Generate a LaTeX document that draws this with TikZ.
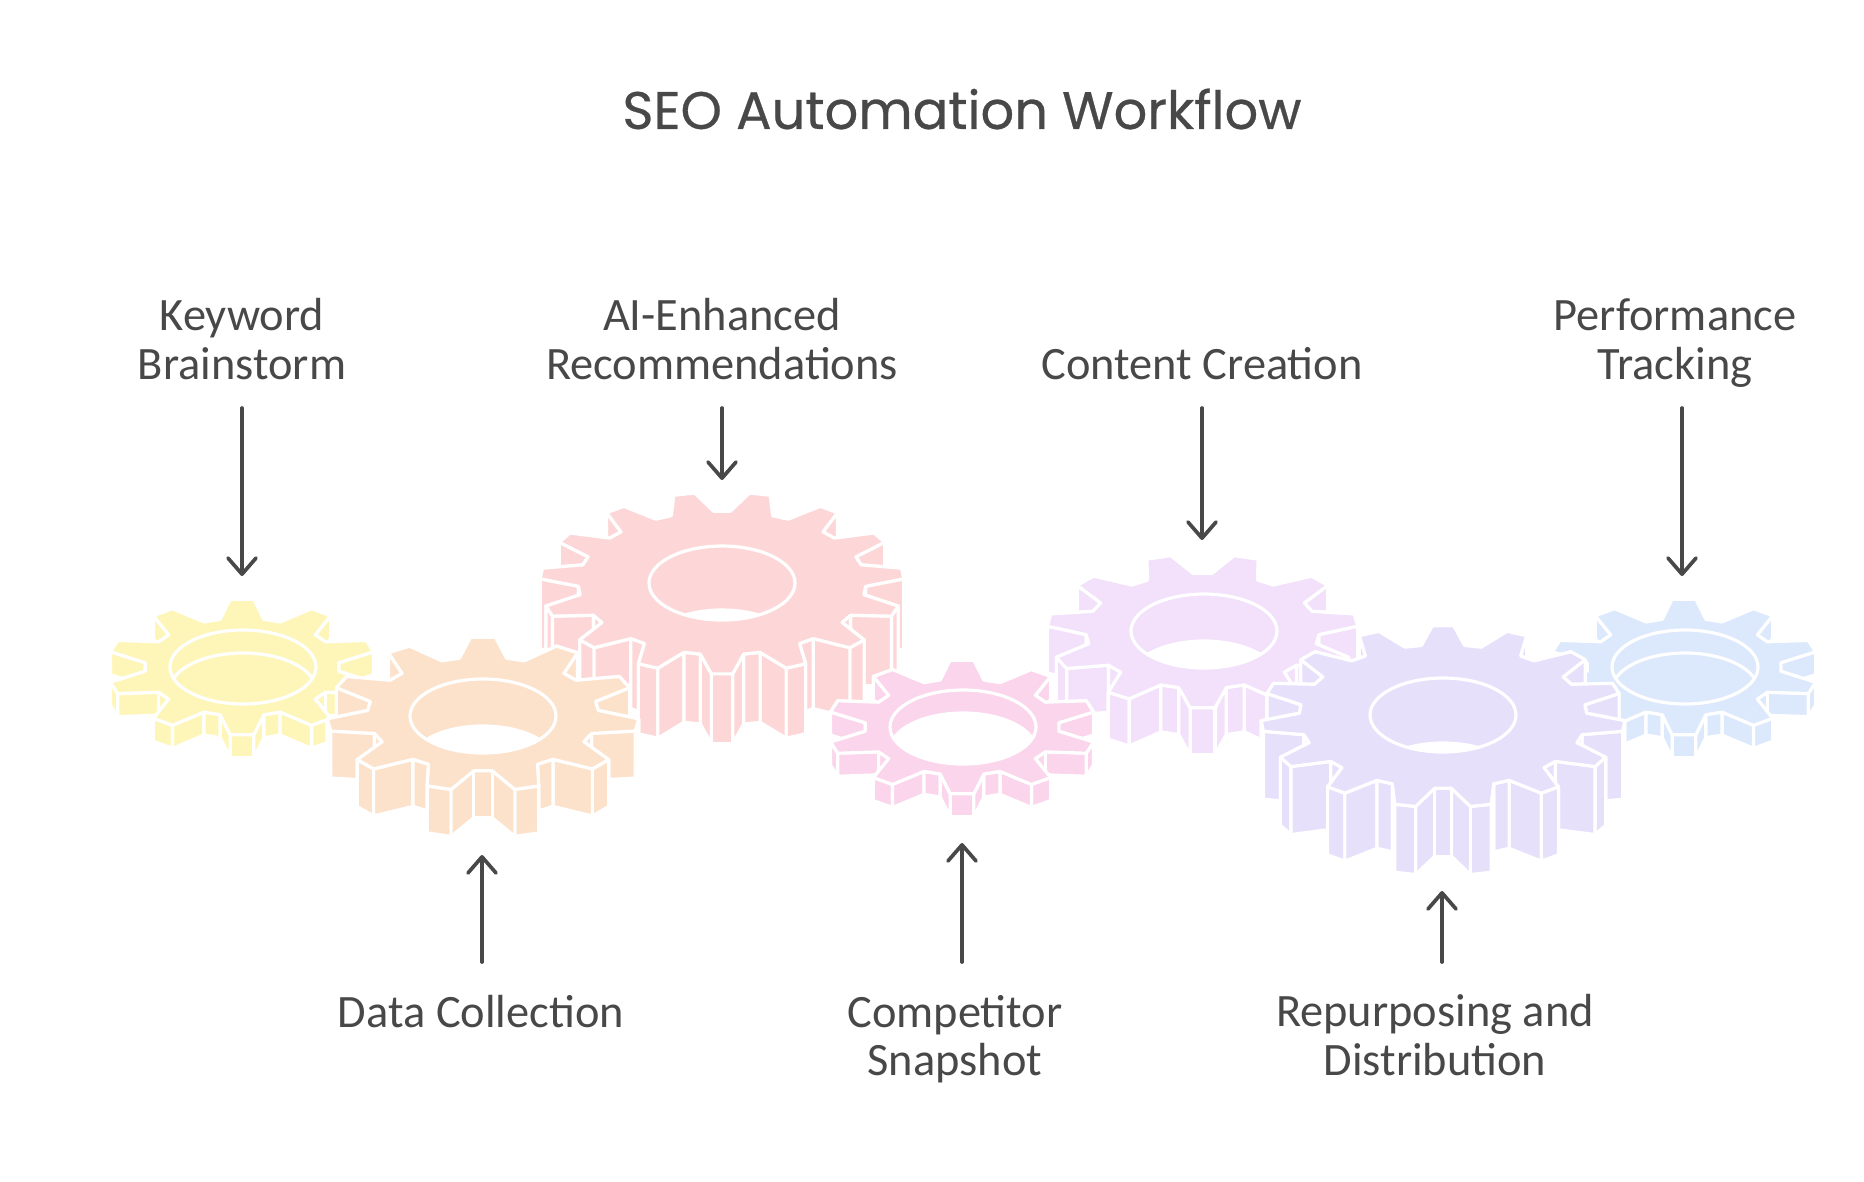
\documentclass[tikz,border=0pt]{standalone}
\usepackage{fontspec}
\usetikzlibrary{arrows.meta}
\newfontfamily\titlefont[FakeBold=0.5]{Poppins}
\newfontfamily\labelfont{Carlito}
\definecolor{ink}{HTML}{484848}
\definecolor{gyellow}{HTML}{FEF6B8}
\definecolor{gorange}{HTML}{FDE2CB}
\definecolor{gred}{HTML}{FDD7D8}
\definecolor{gpink}{HTML}{FBD5EC}
\definecolor{glilac}{HTML}{F3E1FB}
\definecolor{glavender}{HTML}{E6E0FB}
\definecolor{gblue}{HTML}{DCE8FC}
\tikzset{
    gearline/.style={draw=white, line width=0.9pt, line join=round},
    steplabel/.style={font=\labelfont\fontsize{13.2}{13.7}\selectfont, text=ink, align=center, inner sep=0pt},
    pointer/.style={draw=ink, line width=1.05pt, line cap=round, -{Straight Barb[length=4.6pt,width=8pt,line width=1.05pt,round]}}
}
% #1 cx, #2 cy, #3 rx, #4 ry, #5 teeth, #6 root ratio, #7 depth, #8 colour, #9 gap at the top (1) or tooth (0)
\newcommand{\gearbody}[9]{
    \pgfmathsetmacro{\gstep}{360/#5}
    \pgfmathsetmacro{\gstart}{#9==1 ? 90-\gstep/2 : 90}
    \pgfmathtruncatemacro{\gmid}{#9==1 ? 3 : 1}
    \pgfmathtruncatemacro{\glast}{4*#5-1}
    \pgfmathtruncatemacro{\gteeth}{#5-1}
    \pgfmathtruncatemacro{\ghalf}{2*#5}
    \foreach \gk in {0,...,\gteeth}{
        \foreach \go [count=\gc from 0] in {-.36,-.14,.14,.36}{
            \pgfmathtruncatemacro{\gv}{4*\gk+\gc}
            \pgfmathsetmacro{\ga}{\gstart+(\gk+\go)*\gstep}
            \pgfmathsetmacro{\gr}{abs(\go)>.2 ? #6 : 1}
            \coordinate (v\gv) at ({#1+#3*\gr*cos(\ga)},{#2-#4*\gr*sin(\ga)});
        }
    }
    % side walls, back to front
    \foreach \gj in {0,...,\ghalf}{
        \pgfmathtruncatemacro{\gea}{mod(\gmid+\gj,4*#5)}
        \pgfmathtruncatemacro{\geb}{mod(\gmid-\gj+4*#5,4*#5)}
        \foreach \ge in {\gea,\geb}{
            \pgfmathtruncatemacro{\gn}{mod(\ge+1,4*#5)}
            \filldraw[gearline, fill=#8] (v\ge) -- (v\gn) -- ++(0,#7) -- ([shift={(0,#7)}]v\ge) -- cycle;
        }
    }
    \filldraw[gearline, fill=#8] (v0) \foreach \ge in {1,...,\glast}{ -- (v\ge) } -- cycle;
}
% #1 cx, #2 cy, #3 ry, #4 shift, #5 colour, #6 colour seen through the hole
\newcommand{\gearhole}[6]{
    \begin{scope}
        \clip (#1,#2) ellipse [x radius=73, y radius=#3];
        \fill[#5] (#1,#2) ellipse [x radius=73, y radius=#3];
        \filldraw[gearline, fill=#6] (#1,#2+#4) ellipse [x radius=73, y radius=#3];
    \end{scope}
    \draw[gearline] (#1,#2) ellipse [x radius=73, y radius=#3];
}
\begin{document}
\begin{tikzpicture}[x=0.01cm, y=-0.01cm]
    \useasboundingbox (0,0) rectangle (1864,1181);

    % gears, the ones behind first
    \gearbody{242}{667}{135}{68}{10}{.72}{23}{gyellow}{0}
    \gearhole{243}{667}{37}{23}{gyellow}{gyellow}
    \gearbody{722}{583}{182}{91}{15}{.79}{70}{gred}{1}
    \gearhole{722}{583}{37}{64}{gred}{white}
    \gearbody{1202.5}{631}{155.5}{77}{11}{.75}{47}{glilac}{1}
    \gearhole{1204}{631}{37}{47}{glilac}{white}
    \gearbody{1684}{667}{135}{68}{10}{.72}{23}{gblue}{0}
    \gearhole{1685}{667}{37}{23}{gblue}{gblue}
    \gearbody{483}{714}{156}{77}{11}{.74}{47}{gorange}{0}
    \gearhole{483}{716}{37}{47}{gorange}{white}
    \gearbody{962}{727}{135}{67}{10}{.72}{23}{gpink}{0}
    \gearhole{963}{727}{37}{23}{gpink}{white}
    \gearbody{1443}{716.5}{182}{91}{15}{.79}{68}{glavender}{0}
    \gearhole{1443}{715}{37}{65}{glavender}{white}

    \node[font=\titlefont\fontsize{15}{18}\selectfont, text=ink] (title) at (962,109) {SEO Automation Workflow};

    \node[steplabel] (keyword) at (242,339) {Keyword\\Brainstorm};
    \node[steplabel] (enhanced) at (722,339) {AI-Enhanced\\Recommendations};
    \node[steplabel] (content) at (1202,364) {Content Creation};
    \node[steplabel] (tracking) at (1675,343) {Performance\\Tracking};
    \node[steplabel] (collection) at (481,1012) {Data Collection};
    \node[steplabel] (snapshot) at (955,1039) {Competitor\\Snapshot};
    \node[steplabel] (distribution) at (1435,1035) {Repurposing and\\Distribution};

    \coordinate (keywordstart) at (242,408);
    \coordinate (keywordend) at (242,576);
    \coordinate (enhancedstart) at (722,408);
    \coordinate (enhancedend) at (722,480);
    \coordinate (contentstart) at (1202,408);
    \coordinate (contentend) at (1202,540);
    \coordinate (trackingstart) at (1682,408);
    \coordinate (trackingend) at (1682,576);
    \coordinate (collectionstart) at (482,962);
    \coordinate (collectionend) at (482,855);
    \coordinate (snapshotstart) at (962,962);
    \coordinate (snapshotend) at (962,843);
    \coordinate (distributionstart) at (1442,962);
    \coordinate (distributionend) at (1442,891);

    \foreach \pname in {keyword,enhanced,content,tracking,collection,snapshot,distribution}{
        \draw[pointer] (\pname start) -- (\pname end);
    }
\end{tikzpicture}
\end{document}
